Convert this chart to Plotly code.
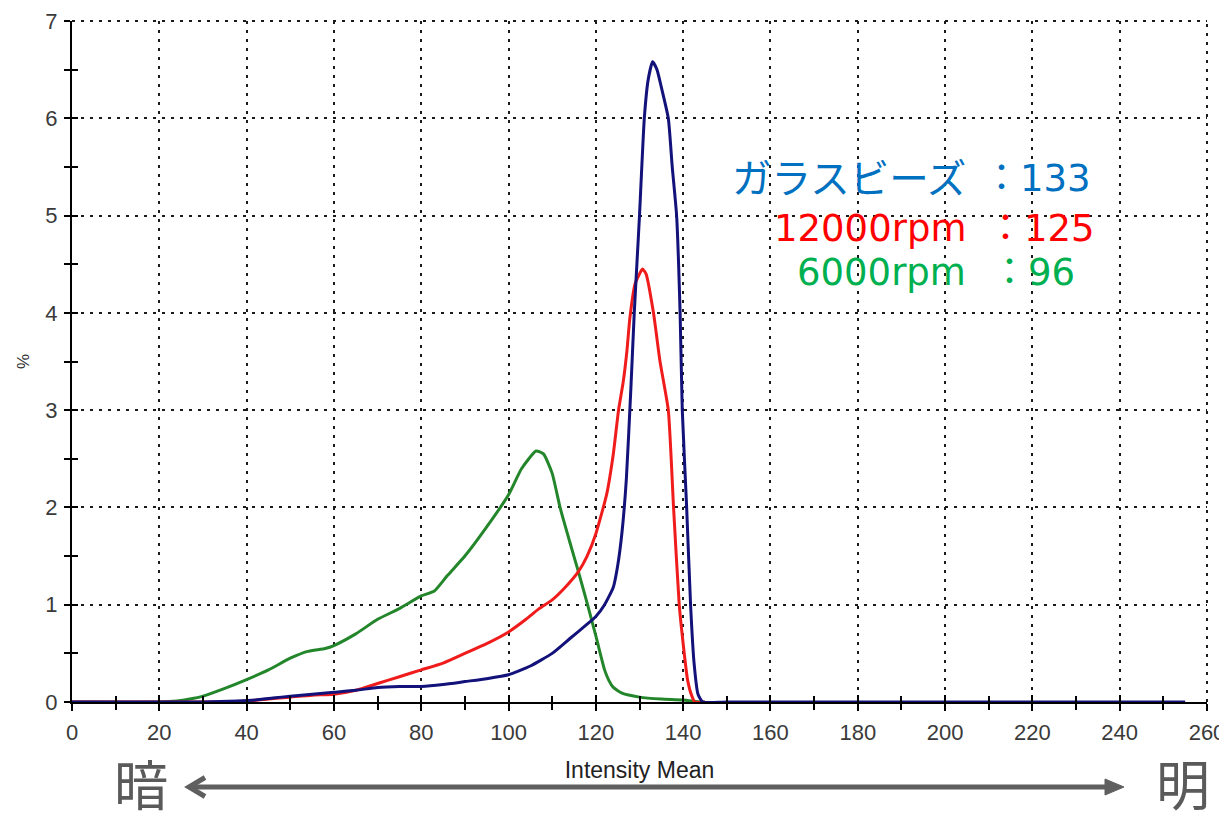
import plotly.graph_objects as go

# ---- data ----
beads_x = [0, 20, 30, 38, 42, 46, 50, 55, 60, 65, 70, 75, 80, 85, 90, 95, 100, 105, 110, 114, 118, 120, 122, 124,
           125, 126, 127, 128, 128.8, 129.4, 130, 131.1, 132, 133, 134, 135, 136.6, 137.5, 138.5, 139.3, 139.8,
           140.8, 141.7, 142.5, 143.4, 144.5, 150, 200, 255]
beads_y = [0, 0, 0, 0.01, 0.02, 0.04, 0.06, 0.08, 0.10, 0.12, 0.15, 0.16, 0.16, 0.18, 0.21, 0.24, 0.28, 0.37, 0.50,
           0.65, 0.80, 0.88, 1.00, 1.18, 1.40, 1.75, 2.30, 3.20, 4.00, 4.50, 5.00, 6.00, 6.40, 6.58, 6.50, 6.32,
           6.00, 5.50, 5.00, 4.00, 3.00, 2.00, 1.00, 0.40, 0.08, 0, 0, 0, 0]

rpm12000_x = [0, 35, 40, 45, 50, 55, 60, 65, 70, 75, 80, 85, 90, 95, 100, 104, 107, 110, 113, 116, 118, 120, 122.5,
              124, 125.2, 126.3, 127.1, 127.8, 129, 130.7, 131.5, 133.2, 134.7, 136.6, 137.8, 139.1, 140, 141, 142,
              142.7, 145]
rpm12000_y = [0, 0, 0.01, 0.03, 0.05, 0.07, 0.08, 0.12, 0.19, 0.26, 0.33, 0.40, 0.50, 0.60, 0.72, 0.85, 0.96, 1.05,
              1.18, 1.34, 1.50, 1.73, 2.14, 2.55, 3.00, 3.30, 3.60, 3.95, 4.30, 4.45, 4.40, 4.00, 3.50, 3.00, 2.00,
              1.00, 0.60, 0.23, 0.06, 0, 0]

rpm6000_x = [0, 20, 24, 27, 30, 35, 40, 45, 50, 54, 58, 60, 65, 70, 75, 80, 83, 86, 90, 95, 100, 103, 106.3, 108,
             110, 111.8, 114, 116, 118.1, 120, 121, 122, 123, 124, 126, 130, 135, 140, 144, 145]
rpm6000_y = [0, 0, 0.01, 0.03, 0.06, 0.14, 0.23, 0.33, 0.45, 0.52, 0.55, 0.58, 0.70, 0.85, 0.96, 1.09, 1.14, 1.30,
             1.50, 1.80, 2.13, 2.40, 2.58, 2.55, 2.35, 2.00, 1.65, 1.34, 1.00, 0.68, 0.50, 0.33, 0.22, 0.15, 0.09,
             0.05, 0.03, 0.02, 0, 0]

series_names = ["6000rpm", "12000rpm", "ガラスビーズ"]
series_means = ["96", "125", "133"]
x_ticks = list(range(0, 261, 20))
y_ticks = list(range(0, 8))
x_title = "Intensity Mean"
y_title = "%"
dark_label = "暗"
bright_label = "明"

# ---- figure ----
line_colors = ["#23862b", "#f01c1c", "#12127a"]
text_colors = ["#00b050", "#ff0000", "#0070c0"]

fig = go.Figure()
# 6000rpm and 12000rpm on the main axes
for xs, ys, c, n in [(rpm6000_x, rpm6000_y, line_colors[0], series_names[0]),
                     (rpm12000_x, rpm12000_y, line_colors[1], series_names[1])]:
    fig.add_trace(go.Scatter(x=xs, y=ys, mode="lines", name=n,
                             line=dict(color=c, width=3, shape="spline", smoothing=0.5),
                             showlegend=False, hoverinfo="skip"))
# beads on a second, identically-scaled subplot stacked on top (it carries the inner half of the tick marks)
fig.add_trace(go.Scatter(x=beads_x, y=beads_y, mode="lines", name=series_names[2], xaxis="x2", yaxis="y2",
                         line=dict(color=line_colors[2], width=3, shape="spline", smoothing=0.5),
                         showlegend=False, hoverinfo="skip"))

tick_font = dict(family="Liberation Sans, Arial, sans-serif", size=22, color="#3a3a3a")
grid = dict(showgrid=True, gridcolor="#1a1a1a", gridwidth=2, griddash="3px,6px")

fig.update_layout(
    width=1219, height=822, autosize=False,
    margin=dict(l=72, r=12, t=21, b=120),
    paper_bgcolor="white", plot_bgcolor="rgba(0,0,0,0)",
    xaxis=dict(domain=[0, 1], anchor="y", range=[0, 260], tickmode="array", tickvals=x_ticks,
               ticktext=[str(v) for v in x_ticks], automargin=False,
               showline=True, linecolor="black", linewidth=2, zeroline=False,
               ticks="outside", ticklen=7, tickwidth=2, tickcolor="black",
               minor=dict(ticks="outside", dtick=10, ticklen=6, tickwidth=2, tickcolor="black", showgrid=False),
               tickfont=tick_font, ticklabelstandoff=3, ticklabeloverflow="allow",
               title=dict(text=x_title, font=dict(family="Liberation Sans, Arial, sans-serif", size=23,
                                                  color="#222222"), standoff=17),
               **grid),
    yaxis=dict(domain=[0, 1], anchor="x", range=[0, 7], tickmode="array", tickvals=y_ticks,
               ticktext=[str(v) for v in y_ticks], automargin=False,
               showline=True, linecolor="black", linewidth=2, zeroline=False,
               ticks="outside", ticklen=6, tickwidth=2, tickcolor="black",
               minor=dict(ticks="outside", dtick=0.5, ticklen=6, tickwidth=2, tickcolor="black", showgrid=False),
               tickfont=tick_font, ticklabelstandoff=2, ticklabeloverflow="allow",
               title=dict(text=y_title, font=dict(family="Liberation Sans, Arial, sans-serif", size=17,
                                                  color="#333333"), standoff=11),
               **grid),
    xaxis2=dict(domain=[0, 1], anchor="y2", range=[0, 260], tickmode="array", tickvals=x_ticks,
                showticklabels=False, showgrid=False, zeroline=False, showline=False, automargin=False,
                ticks="inside", ticklen=7, tickwidth=2, tickcolor="black",
                minor=dict(ticks="inside", dtick=10, ticklen=6, tickwidth=2, tickcolor="black", showgrid=False)),
    yaxis2=dict(domain=[0, 1], anchor="x2", range=[0, 7], tickmode="array", tickvals=y_ticks,
                showticklabels=False, showgrid=False, zeroline=False, showline=False, automargin=False,
                ticks="inside", ticklen=6, tickwidth=2, tickcolor="black",
                minor=dict(ticks="inside", dtick=0.5, ticklen=6, tickwidth=2, tickcolor="black", showgrid=False)),
)

# dotted grid lines along the top (y = 7) and right (x = 260) edges
edge_dash = dict(color="#1a1a1a", width=2, dash="3px,6px")
fig.add_shape(type="line", xref="paper", yref="paper", x0=0, x1=1, y0=1, y1=1, line=edge_dash)
fig.add_shape(type="line", xref="paper", yref="paper", x0=1, x1=1, y0=0, y1=1, line=edge_dash)

# ---- label block (name : mean) ----
label_font = "DejaVu Sans, Noto Sans CJK JP, sans-serif"
label_rows_y = [0.630, 0.696, 0.768]      # 6000rpm, 12000rpm, beads
colon_x = [0.808, 0.804, 0.801]
name_sizes = [37, 37, 39.5]
for name, mean, col, yy, cx, ns in zip(series_names, series_means, text_colors, label_rows_y, colon_x, name_sizes):
    fig.add_annotation(xref="paper", yref="paper", x=0.789, y=yy, xanchor="right", yanchor="middle",
                       text=name, showarrow=False, font=dict(family=label_font, size=ns, color=col))
    fig.add_annotation(xref="paper", yref="paper", x=cx, y=yy, xanchor="left", yanchor="middle",
                       text="：" + mean, showarrow=False, font=dict(family=label_font, size=37, color=col))

# ---- dark / bright arrow below the axis ----
def px(xp):
    return (xp - 72) / 1135.0

def py(yp):
    return (702 - yp) / 681.0

cjk = "Noto Sans CJK JP, sans-serif"
fig.add_annotation(xref="paper", yref="paper", x=px(141), y=py(782), xanchor="center", yanchor="middle",
                   text=dark_label, showarrow=False, borderpad=0,
                   font=dict(family=cjk, size=54, color="#5a5a5a"))
fig.add_annotation(xref="paper", yref="paper", x=px(1183), y=py(782), xanchor="center", yanchor="middle",
                   text=bright_label, showarrow=False, borderpad=0,
                   font=dict(family=cjk, size=54, color="#5a5a5a"))

arrow_col = "#5f5f5f"
fig.add_shape(type="line", xref="paper", yref="paper", x0=px(190), x1=px(1108), y0=py(787), y1=py(787),
              line=dict(color=arrow_col, width=5))
fig.add_shape(type="path", xref="paper", yref="paper",
              path=f"M {px(205)} {py(777.5)} L {px(189)} {py(787)} L {px(205)} {py(796.5)}",
              line=dict(color=arrow_col, width=5))
fig.add_shape(type="path", xref="paper", yref="paper",
              path=f"M {px(1105)} {py(779)} L {px(1124)} {py(787)} L {px(1105)} {py(795)} Z",
              fillcolor=arrow_col, line=dict(color=arrow_col, width=1))

fig.write_html("out.html")
